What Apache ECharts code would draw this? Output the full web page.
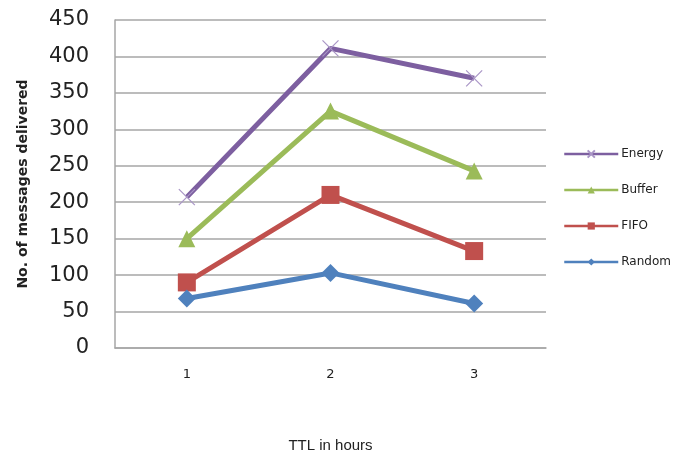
<!DOCTYPE html>
<html>
<head>
<meta charset="utf-8">
<script src="https://cdn.jsdelivr.net/npm/echarts@6/dist/echarts.min.js"></script>
<style>
  html, body { margin: 0; padding: 0; background: #fff; }
  #chart { width: 676px; height: 458px; }
</style>
</head>
<body>
<div id="chart"></div>
<script>
// TTL values on the x axis
const ttlHours = ['1', '2', '3'];

// Messages delivered per buffer policy
const energy = [207, 411, 370];
const buffer = [150, 325, 243];
const fifo   = [90, 210, 133];
const random = [68, 103, 61];

const legendOrder = ['Energy', 'Buffer', 'FIFO', 'Random'];

const crossSymbol = 'path://M0,0L10,10M10,0L0,10';

function lineSeries(name, data, color, symbol, size, markerStyle) {
  return {
    name: name,
    type: 'line',
    data: data,
    symbol: symbol,
    symbolSize: size,
    showSymbol: true,
    lineStyle: { color: color, width: 5 },
    itemStyle: Object.assign({ color: color }, markerStyle || {}),
    emphasis: { disabled: true },
    z: 2
  };
}

const chart = echarts.init(document.getElementById('chart'), null, { renderer: 'canvas' });
chart.setOption({
  animation: false,
  backgroundColor: '#ffffff',
  grid: { left: 115, right: 130, top: 20, bottom: 107 },
  legend: {
    data: legendOrder,
    orient: 'vertical',
    left: 563,
    top: 148,
    padding: 0,
    itemWidth: 54,
    itemHeight: 9,
    itemGap: 24,
    lineStyle: { width: 2.5 },
    textStyle: { fontFamily: 'DejaVu Sans', fontSize: 12, color: '#222', padding: [0, 0, 0, -2] }
  },
  xAxis: {
    type: 'category',
    data: ttlHours,
    boundaryGap: true,
    axisLine: { lineStyle: { color: '#a6a6a6', width: 1.5 } },
    axisTick: { show: false },
    axisLabel: { fontFamily: 'DejaVu Sans', fontSize: 13, color: '#222', margin: 20 },
    name: 'TTL in hours',
    nameLocation: 'middle',
    nameGap: 90,
    nameTextStyle: { fontFamily: 'Liberation Sans Narrow, Liberation Sans', fontSize: 15, color: '#222' }
  },
  yAxis: {
    type: 'value',
    min: 0,
    max: 450,
    interval: 50,
    axisLine: { show: true, lineStyle: { color: '#a6a6a6', width: 1.5 } },
    axisTick: { show: false },
    splitLine: { lineStyle: { color: '#a6a6a6', width: 1.5 } },
    axisLabel: { fontFamily: 'DejaVu Sans', fontSize: 21, color: '#222', margin: 26 },
    name: 'No. of messages delivered',
    nameLocation: 'middle',
    nameGap: 85,
    nameTextStyle: { fontFamily: 'DejaVu Sans', fontSize: 14, fontWeight: 'bold', color: '#222' }
  },
  series: [
    lineSeries('Energy', energy, '#7d5fa0', crossSymbol, 16,
      { color: '#a995c6', borderColor: '#a995c6', borderWidth: 1.2 }),
    lineSeries('Buffer', buffer, '#9bbb59', 'triangle', 17),
    lineSeries('FIFO', fifo, '#c0504d', 'rect', 18),
    lineSeries('Random', random, '#4f81bd', 'diamond', 18)
  ]
});
</script>
</body>
</html>
